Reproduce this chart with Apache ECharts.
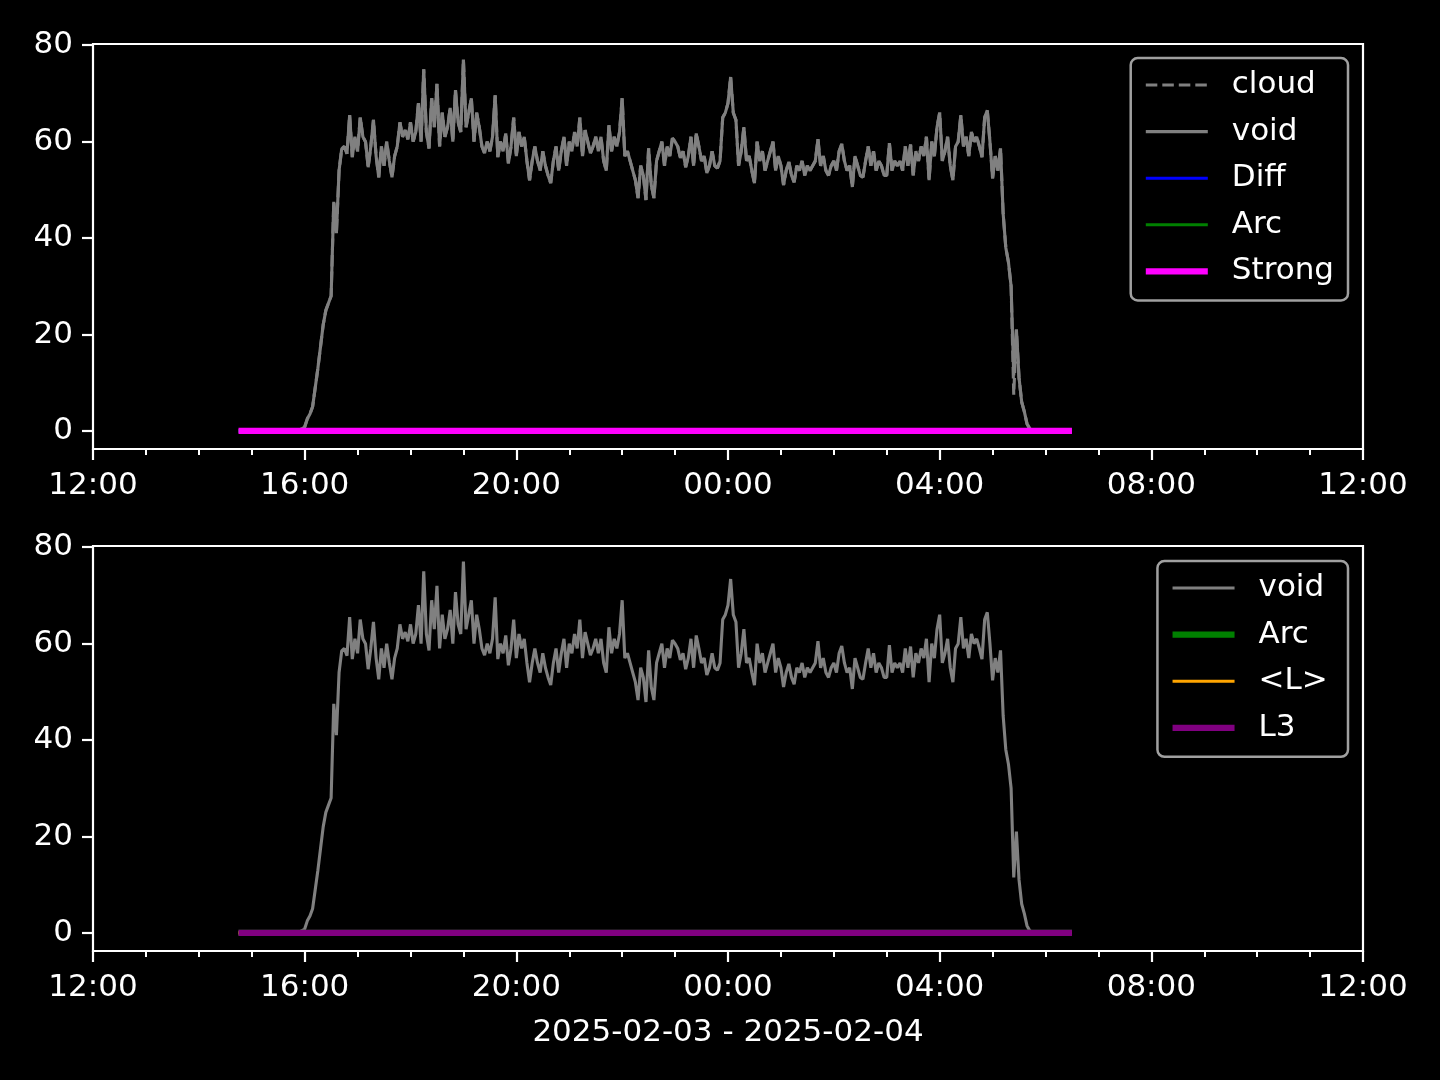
<!DOCTYPE html>
<html>
<head>
<meta charset="utf-8">
<script src="https://cdn.jsdelivr.net/npm/echarts@6/dist/echarts.min.js"></script>
<style>
html,body{margin:0;padding:0;background:#000;}
#chart{width:1440px;height:1080px;}
</style>
</head>
<body>
<div id="chart"></div>
<script>
// ---- data ----
const xAxisLabel = '2025-02-03 - 2025-02-04';
const xMin = Date.UTC(2025, 1, 3, 12, 0);
const xMax = Date.UTC(2025, 1, 4, 12, 0);
const yTickValues = [0, 20, 40, 60, 80];
// "void" series: samples every 3 minutes starting 2025-02-03 14:45
const voidStart = Date.UTC(2025, 1, 3, 14, 45);
const voidStepMinutes = 3;
const voidValues = [
  // 14:45 - 15:57
  0,0,0,0,0, 0,0,0,0,0, 0,0,0,0,0, 0,0,0,0,0, 0,0,0,0.2,0.5,
  // 16:00
  0.8,2.5,3.5,5,9,13,17.5,22,25,26.5,28,47.5,41,54,58.5,59,57.5,65.5,56.8,61,
  // 17:00
  58,65,61,60,54.7,59,64.5,57,52.6,59,55,60,56,52.6,57,59,64,61,62.4,60.5,
  // 18:00
  64,60,62,68,60,75,62,58.6,69,63,72,59,66,61,63,67,60,70.7,64,62,
  // 19:00
  77,63,66,69,60,66,63,59,57.6,60,58,61,69.6,56.8,60,58,61.7,55.5,59,65,
  // 20:00
  57,62,59,61,56,52,56,59,56,54,58,55,53,51.4,56,59,54,58,61,55,
  // 21:00
  60,58,62,59,65,57,62.4,60,57.6,59,61,58,61,56,54,63.4,58,61,59,62,
  // 22:00
  69,57,58,56,54,52,48.3,55,53,47.9,58.6,51,48.3,56,58,60,55,59,57,60.7,
  // 23:00
  60,59,56.6,58,54.7,57,61,55,61.7,59,56,57,53.5,55,58,55,54.5,56,65,66,
  // 00:00
  68,73.4,66,64.5,55,58,63,56,57,54,51.4,60,56,58,54,56,58,60,54,57,
  // 01:00
  55,51,54,55.8,53,51.6,55,54,56,53,55,54,55,56,60.5,55,57,54,53,55,
  // 02:00
  56,54,58,59.5,56,54,55,50.6,57,55,53,52.6,56,59,55,58,54,56,55,53,
  // 03:00
  53,59.7,54,56,55,56,54,59,55,59.4,53,58,56,59,57,61,52,60,57,63,
  // 04:00
  66,56,58,61,55,52,59,60,65.5,59,61,57,62,60,61,59,56.8,65,66.5,60,
  // 05:00 - 05:45
  52.4,57,54,58.6,45,38,35,30,11.5,21,11,6,4,1.5,0.5,0,
  // 05:48 - 06:30
  0,0,0,0,0, 0,0,0,0,0, 0,0,0,0,0
];
// "cloud" follows "void" except at 05:24 where it dips lower
const cloudDipTime = Date.UTC(2025, 1, 4, 5, 24);
const cloudDipValue = 7.5;
// flat series (start / end of record)
const flatTimes = [Date.UTC(2025, 1, 3, 14, 45), Date.UTC(2025, 1, 4, 6, 30)];
const diffValues = [0, 0];
const arcValues = [0, 0];
const strongValues = [0, 0];
const meanLValues = [0, 0];
const l3Values = [0, 0];

// ---- build ----
const voidData = voidValues.map((v, i) => [voidStart + i * voidStepMinutes * 60000, v]);
const cloudData = voidData.map(p => [p[0], p[0] === cloudDipTime ? cloudDipValue : p[1]]);
const flat = vals => flatTimes.map((t, i) => [t, vals[i]]);

const FONT = 'DejaVu Sans';
const FS = 31;
const WHITE = '#ffffff';
const H4 = 4 * 3600 * 1000;

function xAxis(gridIndex, withName) {
  const ax = {
    type: 'value', gridIndex, min: xMin, max: xMax, interval: H4,
    axisLine: { show: false, onZero: false },
    splitLine: { show: false },
    axisTick: { show: true, length: 11, lineStyle: { color: WHITE, width: 2.2 } },
    minorTick: { show: true, splitNumber: 4, length: 6, lineStyle: { color: WHITE, width: 2 } },
    minorSplitLine: { show: false },
    axisLabel: {
      color: WHITE, fontFamily: FONT, fontSize: FS, margin: 21,
      formatter: v => {
        const d = new Date(v);
        return String(d.getUTCHours()).padStart(2, '0') + ':' + String(d.getUTCMinutes()).padStart(2, '0');
      }
    }
  };
  if (withName) {
    ax.name = xAxisLabel;
    ax.nameLocation = 'middle';
    ax.nameGap = 66;
    ax.nameTextStyle = { color: WHITE, fontFamily: FONT, fontSize: FS };
  }
  return ax;
}
function yAxis(gridIndex) {
  return {
    type: 'value', gridIndex, min: -3.75, max: 80.25,
    axisLine: { show: false, onZero: false },
    splitLine: { show: false },
    axisTick: { show: true, length: 11, customValues: yTickValues, lineStyle: { color: WHITE, width: 2.2 } },
    axisLabel: { color: WHITE, fontFamily: FONT, fontSize: FS, margin: 20, customValues: yTickValues }
  };
}
function line(name, data, color, width, xi, extra) {
  return Object.assign({
    name, type: 'line', data, xAxisIndex: xi, yAxisIndex: xi,
    showSymbol: false, symbol: 'none', silent: true,
    lineStyle: { color, width }, itemStyle: { color }
  }, extra || {});
}
const legendBase = {
  orient: 'vertical', align: 'left', itemWidth: 62, itemHeight: 14, itemGap: 10.6,
  backgroundColor: '#000000', borderColor: '#a0a0a0', borderWidth: 2.5, borderRadius: 7,
  itemStyle: { opacity: 0 },
  lineStyle: { width: 'inherit' },
  textStyle: { color: WHITE, fontFamily: FONT, fontSize: FS, lineHeight: 36, padding: [0, 0, 0, 19] }
};

const option = {
  backgroundColor: '#000000',
  animation: false,
  grid: [
    { left: 93, right: 77, top: 44, height: 405, show: true, borderColor: WHITE, borderWidth: 2.2, backgroundColor: 'transparent' },
    { left: 93, right: 77, top: 546, height: 405, show: true, borderColor: WHITE, borderWidth: 2.2, backgroundColor: 'transparent' }
  ],
  xAxis: [xAxis(0, false), xAxis(1, true)],
  yAxis: [yAxis(0), yAxis(1)],
  legend: [
    Object.assign({}, legendBase, { right: 92, top: 58, padding: [9, 14, 11, 12],
      data: ['cloud', 'void', 'Diff', 'Arc', 'Strong'] }),
    Object.assign({}, legendBase, { right: 92, top: 561, padding: [9, 14, 11, 12],
      data: ['void ', 'Arc ', '<L>', 'L3'] })
  ],
  series: [
    line('cloud', cloudData, '#808080', 3.1, 0, { lineStyle: { color: '#808080', width: 3.1, type: [11.5, 5] } }),
    line('void', voidData, '#808080', 3.1, 0),
    line('Diff', flat(diffValues), '#0000ff', 3.1, 0),
    line('Arc', flat(arcValues), '#008000', 3.1, 0),
    line('Strong', flat(strongValues), '#ff00ff', 6.2, 0),
    line('void ', voidData, '#808080', 3.1, 1),
    line('Arc ', flat(arcValues), '#008000', 6.2, 1),
    line('<L>', flat(meanLValues), '#ffa500', 3.1, 1),
    line('L3', flat(l3Values), '#800080', 6.2, 1)
  ]
};
const chart = echarts.init(document.getElementById('chart'), null, { renderer: 'canvas' });
chart.setOption(option);
</script>
</body>
</html>
